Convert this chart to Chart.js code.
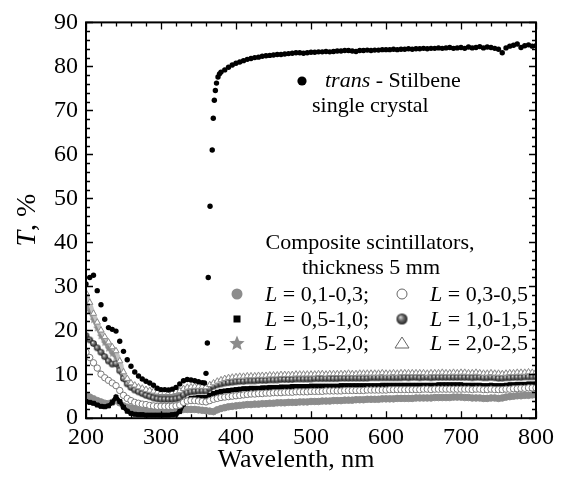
<!DOCTYPE html>
<html>
<head>
<meta charset="utf-8">
<script src="https://cdn.jsdelivr.net/npm/chart.js@4"></script>
<style>
  html, body { margin: 0; padding: 0; background: #fff; }
</style>
</head>
<body>
<canvas id="transm" width="562" height="477"></canvas>
<script>
// wavelength grid (nm), 5 nm step, shared by the composite samples
var wavelengths = [];
for (var w = 200; w <= 800; w += 5) wavelengths.push(w);

// trans-stilbene crystal: dense points through the absorption edge
var stilbeneEdgeWl = [358, 360, 361.8, 363, 365.4, 368.3, 369.7, 371.1, 372.5, 374, 376, 378];
var stilbeneWl = wavelengths.slice(0, 32).concat(stilbeneEdgeWl, wavelengths.slice(36));
var stilbeneT = [
  30.5, 32.0, 32.5, 29.0, 25.8, 22.5, 20.6, 20.2, 19.8, 17.5,
  15.2, 13.3, 11.8, 10.5, 9.6, 8.9, 8.4, 8.0, 7.5, 6.8,
  6.5, 6.5, 6.4, 6.6, 7.0, 7.8, 8.5, 8.8, 8.7, 8.5,
  8.3, 8.1,
  8.0, 10.2, 17.1, 32.0, 48.2, 61.0, 68.2, 72.3, 74.5, 76.2, 77.6, 78.3,
  78.7, 79.2, 79.8, 80.3, 80.7, 81.0, 81.3, 81.6, 81.8, 82.0,
  82.1, 82.3, 82.4, 82.5, 82.6, 82.7, 82.7, 82.8, 82.9, 83.0,
  83.1, 83.1, 83.0, 83.1, 83.2, 83.2, 83.3, 83.3, 83.4, 83.3,
  83.4, 83.5, 83.5, 83.6, 83.6, 83.5, 83.4, 83.6, 83.6, 83.7,
  83.6, 83.7, 83.7, 83.8, 83.8, 83.8, 83.9, 83.8, 83.9, 83.9,
  84.0, 83.9, 84.0, 84.0, 84.1, 84.0, 84.1, 84.1, 84.2, 84.1,
  84.2, 84.3, 84.1, 84.2, 84.3, 84.1, 84.4, 84.2, 84.3, 84.5,
  84.2, 84.4, 84.3, 84.1, 83.9, 83.1, 84.2, 84.6, 84.8, 85.1,
  84.3, 84.7, 84.9, 84.6, 84.7
];

// composite scintillators, one array per grain size L (mm)
var tL01_03 = [
  5.2, 4.8, 4.4, 4.0, 3.7, 3.4, 3.3, 3.6, 4.2, 3.5,
  2.8, 2.5, 2.3, 2.1, 2.0, 1.9, 1.9, 1.8, 1.8, 1.8,
  1.8, 1.8, 1.8, 1.8, 1.9, 2.0, 2.0, 2.0, 2.0, 2.0,
  1.9, 1.8, 1.7, 1.6, 1.5, 1.9, 2.2, 2.4, 2.6, 2.7,
  2.8, 2.9, 3.0, 3.1, 3.1,
  3.2, 3.2, 3.3, 3.3, 3.4, 3.4, 3.5, 3.5, 3.5, 3.6,
  3.6, 3.6, 3.7, 3.7, 3.7, 3.8, 3.8, 3.8, 3.9, 3.9,
  3.9, 4.0, 4.0, 4.0, 4.1, 4.1, 4.1, 4.2, 4.2, 4.2,
  4.3, 4.3, 4.3, 4.3, 4.4, 4.4, 4.4, 4.4, 4.5, 4.5,
  4.5, 4.5, 4.5, 4.6, 4.6, 4.6, 4.6, 4.6, 4.7, 4.7,
  4.7, 4.7, 4.7, 4.8, 4.8, 4.8, 4.7, 4.7, 4.6, 4.6,
  4.6, 4.5, 4.5, 4.6, 4.6, 4.5, 4.6, 4.8, 4.9, 5.0,
  5.1, 5.1, 5.2, 5.2, 5.3, 5.3
];
var tL03_05 = [
  15.0, 13.8, 12.6, 11.4, 10.0, 9.2, 8.6, 8.0, 7.4, 6.3,
  5.2, 4.5, 4.0, 3.6, 3.4, 3.2, 3.1, 2.9, 2.8, 2.7,
  2.7, 2.7, 2.7, 2.7, 2.8, 3.0, 3.6, 3.9, 4.0, 4.0,
  3.9, 3.8, 3.7, 4.0, 4.3, 4.5, 4.7, 4.8, 4.9, 5.0,
  5.1, 5.2, 5.3, 5.4, 5.5,
  5.5, 5.6, 5.6, 5.7, 5.7, 5.8, 5.8, 5.8, 5.9, 5.9,
  5.9, 6.0, 6.0, 6.0, 6.0, 6.1, 6.1, 6.1, 6.1, 6.2,
  6.2, 6.2, 6.2, 6.2, 6.3, 6.3, 6.3, 6.3, 6.3, 6.3,
  6.4, 6.4, 6.4, 6.4, 6.4, 6.4, 6.5, 6.5, 6.5, 6.5,
  6.5, 6.5, 6.5, 6.5, 6.5, 6.6, 6.6, 6.5, 6.6, 6.6,
  6.6, 6.6, 6.6, 6.6, 6.6, 6.6, 6.6, 6.6, 6.5, 6.6,
  6.6, 6.5, 6.5, 6.6, 6.5, 6.5, 6.5, 6.6, 6.6, 6.7,
  6.7, 6.8, 6.8, 6.9, 6.9, 6.9
];
var tL05_10 = [
  3.8, 3.6, 3.4, 3.0, 2.7, 2.6, 2.8, 3.6, 4.8, 3.8,
  2.5, 1.6, 1.1, 0.9, 0.8, 0.8, 0.7, 0.7, 0.7, 0.7,
  0.7, 0.7, 0.7, 0.8, 0.9, 1.5, 3.2, 4.1, 4.5, 4.6,
  4.7, 4.7, 4.7, 5.2, 5.6, 5.9, 6.1, 6.2, 6.3, 6.4,
  6.5, 6.6, 6.7, 6.7, 6.8,
  6.8, 6.8, 6.9, 6.9, 7.0, 7.0, 7.0, 7.1, 7.1, 7.1,
  7.2, 7.2, 7.2, 7.2, 7.2, 7.3, 7.3, 7.3, 7.3, 7.3,
  7.3, 7.3, 7.3, 7.4, 7.4, 7.4, 7.4, 7.4, 7.4, 7.4,
  7.4, 7.4, 7.4, 7.4, 7.5, 7.5, 7.5, 7.5, 7.5, 7.5,
  7.5, 7.5, 7.5, 7.5, 7.5, 7.5, 7.5, 7.5, 7.5, 7.6,
  7.6, 7.6, 7.6, 7.6, 7.6, 7.6, 7.5, 7.5, 7.5, 7.5,
  7.5, 7.4, 7.4, 7.5, 7.4, 7.4, 7.4, 7.5, 7.6, 7.6,
  7.7, 7.7, 7.7, 7.8, 7.8, 7.8
];
var tL10_15 = [
  18.8, 17.8, 17.0, 16.0, 15.0, 14.0, 13.0, 12.3, 12.4, 10.8,
  9.0, 7.8, 7.0, 6.4, 6.0, 5.6, 5.2, 4.9, 4.6, 4.4,
  4.3, 4.3, 4.3, 4.3, 4.4, 4.6, 5.3, 5.8, 6.0, 6.1,
  6.2, 6.2, 6.2, 6.8, 7.3, 7.6, 7.8, 8.0, 8.1, 8.2,
  8.3, 8.4, 8.4, 8.5, 8.5,
  8.5, 8.6, 8.6, 8.6, 8.7, 8.7, 8.7, 8.8, 8.8, 8.8,
  8.8, 8.9, 8.9, 8.9, 8.9, 8.9, 9.0, 9.0, 9.0, 9.0,
  9.0, 9.0, 9.0, 9.1, 9.1, 9.1, 9.1, 9.1, 9.1, 9.1,
  9.1, 9.2, 9.2, 9.2, 9.2, 9.2, 9.2, 9.2, 9.2, 9.2,
  9.3, 9.2, 9.3, 9.3, 9.2, 9.3, 9.3, 9.2, 9.3, 9.3,
  9.3, 9.3, 9.3, 9.3, 9.3, 9.3, 9.3, 9.3, 9.2, 9.3,
  9.3, 9.2, 9.2, 9.3, 9.2, 9.1, 9.1, 9.2, 9.2, 9.3,
  9.3, 9.3, 9.4, 9.4, 9.4, 9.4
];
var tL15_20 = [
  26.5, 24.5, 22.5, 20.6, 18.8, 17.3, 16.0, 14.8, 14.0, 12.0,
  9.9, 8.6, 7.8, 7.2, 6.7, 6.3, 6.0, 5.7, 5.4, 5.1,
  5.0, 5.0, 5.0, 5.0, 5.2, 5.5, 6.0, 6.3, 6.4, 6.4,
  6.4, 6.3, 6.3, 7.0, 7.6, 8.1, 8.4, 8.7, 8.9, 9.0,
  9.1, 9.2, 9.2, 9.3, 9.3,
  9.3, 9.4, 9.4, 9.4, 9.5, 9.5, 9.5, 9.6, 9.6, 9.6,
  9.6, 9.7, 9.7, 9.7, 9.7, 9.7, 9.8, 9.8, 9.8, 9.8,
  9.8, 9.8, 9.9, 9.8, 9.9, 9.9, 9.9, 9.9, 9.9, 9.9,
  10.0, 9.9, 10.0, 10.0, 10.0, 10.0, 10.0, 10.0, 10.0, 10.0,
  10.1, 10.0, 10.1, 10.1, 10.0, 10.1, 10.1, 10.0, 10.1, 10.1,
  10.1, 10.1, 10.1, 10.1, 10.2, 10.1, 10.1, 10.1, 10.0, 10.1,
  10.1, 10.0, 10.0, 10.1, 10.0, 9.9, 9.9, 10.0, 10.0, 10.1,
  10.1, 10.1, 10.2, 10.2, 10.2, 10.2
];
var tL20_25 = [
  28.5, 26.3, 23.8, 21.8, 20.0, 18.5, 17.3, 16.2, 15.3, 13.0,
  10.5, 9.0, 8.0, 7.5, 7.1, 6.8, 6.5, 6.3, 6.1, 5.9,
  5.8, 5.8, 5.8, 5.8, 6.0, 6.2, 6.7, 7.0, 7.1, 7.2,
  7.2, 7.2, 7.1, 7.6, 8.0, 8.4, 8.7, 9.0, 9.2, 9.3,
  9.4, 9.5, 9.5, 9.6, 9.6,
  9.6, 9.7, 9.7, 9.7, 9.8, 9.8, 9.8, 9.9, 9.9, 9.9,
  9.9, 10.0, 10.0, 10.0, 10.0, 10.0, 10.0, 10.1, 10.1, 10.0,
  10.1, 10.1, 10.1, 10.1, 10.1, 10.2, 10.1, 10.1, 10.2, 10.2,
  10.2, 10.2, 10.2, 10.2, 10.3, 10.2, 10.2, 10.3, 10.2, 10.3,
  10.3, 10.3, 10.3, 10.3, 10.3, 10.3, 10.2, 10.3, 10.3, 10.3,
  10.4, 10.3, 10.3, 10.4, 10.3, 10.4, 10.4, 10.3, 10.3, 10.4,
  10.3, 10.2, 10.2, 10.3, 10.2, 10.2, 10.1, 10.2, 10.3, 10.3,
  10.4, 10.4, 10.4, 10.5, 10.4, 10.5
];

var xTicks = [200, 300, 400, 500, 600, 700, 800];
var yTicks = [0, 10, 20, 30, 40, 50, 60, 70, 80, 90];

var serif = "'Liberation Serif', 'Times New Roman', serif";
var gray = '#8c8c8c';

function pts(xs, ys) {
  return xs.map(function (x, i) { return { x: x, y: ys[i] }; });
}

function makeStar(r, fill) {
  var s = Math.ceil(r * 2 + 2);
  var c = document.createElement('canvas');
  c.width = s; c.height = s;
  var g = c.getContext('2d');
  g.fillStyle = fill;
  g.beginPath();
  for (var i = 0; i < 10; i++) {
    var rad = i % 2 === 0 ? r : r * 0.45;
    var ang = -Math.PI / 2 + i * Math.PI / 5;
    var px = s / 2 + rad * Math.cos(ang), py = s / 2 + 0.6 + rad * Math.sin(ang);
    if (i === 0) g.moveTo(px, py); else g.lineTo(px, py);
  }
  g.closePath();
  g.fill();
  return c;
}

function makeSphere(r) {
  var s = Math.ceil(r * 2 + 2);
  var c = document.createElement('canvas');
  c.width = s; c.height = s;
  var g = c.getContext('2d');
  var grad = g.createRadialGradient(s / 2 - r * 0.3, s / 2 - r * 0.35, r * 0.05, s / 2, s / 2, r);
  grad.addColorStop(0, '#dcdcdc');
  grad.addColorStop(0.45, '#6e6e6e');
  grad.addColorStop(1, '#1e1e1e');
  g.fillStyle = grad;
  g.beginPath();
  g.arc(s / 2, s / 2, r, 0, Math.PI * 2);
  g.fill();
  return c;
}

var starSmall = makeStar(4.2, '#8a8a8a');
var sphereSmall = makeSphere(3.3);

// each composite band: a thick line under the sample markers
function band(label, values, style, radius, fill, edge, lineColor, lineWidth) {
  return {
    label: label, data: pts(wavelengths, values), showLine: true,
    borderColor: lineColor, borderWidth: lineWidth, tension: 0,
    pointStyle: style, pointRadius: radius,
    pointBackgroundColor: fill, pointBorderColor: edge, pointBorderWidth: 1
  };
}

var datasets = [
  { label: 'trans-Stilbene', data: pts(stilbeneWl, stilbeneT), pointStyle: 'circle', pointRadius: 2.7,
    pointBackgroundColor: '#000', pointBorderWidth: 0, showLine: false },
  band('L = 2,0-2,5', tL20_25, 'triangle', 3.6, '#fff', '#8a8a8a', '#c4c4c4', 4),
  band('L = 0,3-0,5', tL03_05, 'circle', 3.2, '#fff', '#7a7a7a', '#bdbdbd', 4),
  band('L = 0,5-1,0', tL05_10, 'rect', 2.8, '#000', '#000', '#000', 4),
  band('L = 1,0-1,5', tL10_15, sphereSmall, 3, '#555', '#555', '#6a6a6a', 4),
  band('L = 1,5-2,0', tL15_20, starSmall, 3, gray, gray, '#9a9a9a', 4),
  band('L = 0,1-0,3', tL01_03, 'circle', 3.3, gray, gray, gray, 5)
];

function mixedText(ctx, parts, x, y) {
  // parts: [text, italic, size] drawn left to right from x
  parts.forEach(function (p) {
    ctx.font = (p[1] ? 'italic ' : '') + p[2] + 'px ' + serif;
    ctx.fillText(p[0], x, y);
    x += ctx.measureText(p[0]).width;
  });
}

var decorations = {
  id: 'decorations',
  afterDraw: function (chart) {
    var ctx = chart.ctx, a = chart.chartArea;
    var xs = chart.scales.x, ys = chart.scales.y;
    ctx.save();
    ctx.strokeStyle = '#000';
    ctx.fillStyle = '#000';

    // inward ticks on all four sides
    ctx.lineWidth = 1.3;
    ctx.beginPath();
    for (var v = 200; v <= 800; v += 20) {
      var px = Math.round(xs.getPixelForValue(v)) + 0.5;
      var len = v % 100 === 0 ? 7 : 4;
      ctx.moveTo(px, a.bottom); ctx.lineTo(px, a.bottom - len);
      ctx.moveTo(px, a.top); ctx.lineTo(px, a.top + len);
    }
    for (var t = 0; t <= 90; t += 2) {
      var py = Math.round(ys.getPixelForValue(t)) + 0.5;
      var l2 = t % 10 === 0 ? 7 : 4;
      ctx.moveTo(a.left, py); ctx.lineTo(a.left + l2, py);
      ctx.moveTo(a.right, py); ctx.lineTo(a.right - l2, py);
    }
    ctx.stroke();
    ctx.lineWidth = 2;
    ctx.strokeRect(a.left, a.top, a.right - a.left, a.bottom - a.top);

    // axis titles
    ctx.textBaseline = 'alphabetic';
    ctx.font = '26px ' + serif;
    ctx.textAlign = 'center';
    ctx.fillText('Wavelenth, nm', 296, 467);

    ctx.save();
    ctx.translate(35, 220);
    ctx.rotate(-Math.PI / 2);
    ctx.textAlign = 'left';
    ctx.font = 'italic 28px ' + serif;
    var wT = ctx.measureText('T').width;
    ctx.font = '28px ' + serif;
    var wRest = ctx.measureText(', %').width;
    mixedText(ctx, [['T', true, 28], [', %', false, 28]], -(wT + wRest) / 2, 0);
    ctx.restore();

    // stilbene legend
    ctx.textAlign = 'left';
    ctx.beginPath();
    ctx.arc(302, 81, 4.6, 0, Math.PI * 2);
    ctx.fill();
    mixedText(ctx, [['trans', true, 22], [' - Stilbene', false, 22]], 325, 87);
    ctx.font = '22px ' + serif;
    ctx.fillText('single crystal', 312, 112);

    // composite legend
    ctx.textAlign = 'center';
    ctx.font = '22px ' + serif;
    ctx.fillText('Composite scintillators,', 370, 249);
    ctx.fillText('thickness 5 mm', 371, 274);
    ctx.textAlign = 'left';

    var rows = [301, 326, 350];
    var colMark = [237, 402], colText = [265, 430];
    var labels = [['0,1-0,3;', '0,3-0,5'], ['0,5-1,0;', '1,0-1,5'], ['1,5-2,0;', '2,0-2,5']];
    for (var r = 0; r < 3; r++) {
      for (var c = 0; c < 2; c++) {
        mixedText(ctx, [['L', true, 22], [' = ' + labels[r][c], false, 22]], colText[c], rows[r]);
      }
    }
    // legend markers
    var my = rows.map(function (b) { return b - 7; });
    ctx.fillStyle = gray;
    ctx.beginPath(); ctx.arc(colMark[0], my[0], 5.5, 0, Math.PI * 2); ctx.fill();
    ctx.strokeStyle = '#666'; ctx.lineWidth = 1;
    ctx.beginPath(); ctx.arc(colMark[1], my[0], 5, 0, Math.PI * 2); ctx.stroke();
    ctx.fillStyle = '#000';
    ctx.fillRect(colMark[0] - 3.5, my[1] - 3.5, 7, 7);
    var bigSphere = makeSphere(5.5);
    ctx.drawImage(bigSphere, colMark[1] - bigSphere.width / 2, my[1] - bigSphere.height / 2);
    var bigStar = makeStar(8, gray);
    ctx.drawImage(bigStar, colMark[0] - bigStar.width / 2, my[2] - bigStar.height / 2);
    ctx.beginPath();
    ctx.moveTo(colMark[1], my[2] - 6);
    ctx.lineTo(colMark[1] + 7, my[2] + 5);
    ctx.lineTo(colMark[1] - 7, my[2] + 5);
    ctx.closePath();
    ctx.stroke();
    ctx.restore();
  }
};

var ctx = document.getElementById('transm').getContext('2d');
new Chart(ctx, {
  type: 'scatter',
  data: { datasets: datasets },
  options: {
    responsive: false,
    animation: false,
    events: [],
    layout: { padding: { left: 46, right: 26, top: 22, bottom: 20 } },
    plugins: { legend: { display: false }, tooltip: { enabled: false } },
    scales: {
      x: {
        type: 'linear', min: 200, max: 800,
        grid: { display: false, drawTicks: false },
        border: { display: false },
        afterBuildTicks: function (s) { s.ticks = xTicks.map(function (v) { return { value: v }; }); },
        ticks: { color: '#000', padding: 5, font: { family: serif, size: 24 }, maxRotation: 0 }
      },
      y: {
        type: 'linear', min: 0, max: 90,
        grid: { display: false, drawTicks: false },
        border: { display: false },
        afterBuildTicks: function (s) { s.ticks = yTicks.map(function (v) { return { value: v }; }); },
        ticks: { color: '#000', padding: 8, font: { family: serif, size: 24 } }
      }
    }
  },
  plugins: [decorations]
});
</script>
</body>
</html>
